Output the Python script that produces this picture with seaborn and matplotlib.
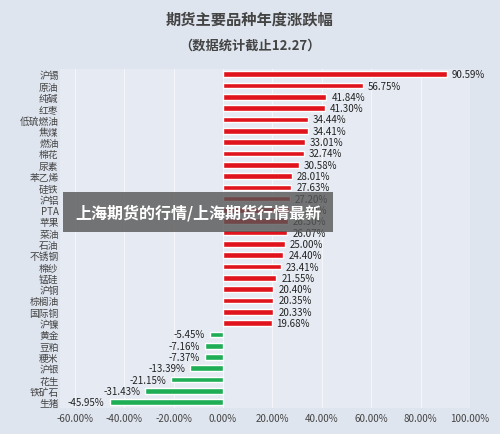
import matplotlib
matplotlib.use("Agg")
import matplotlib.pyplot as plt
import seaborn as sns
import pandas as pd

names = ["沪锡", "原油", "纯碱", "红枣", "低硫燃油", "焦煤", "燃油", "棉花", "尿素", "苯乙烯",
         "硅铁", "沪铝", "PTA", "苹果", "菜油", "石油", "不锈钢", "棉纱", "锰硅", "沪铜",
         "棕榈油", "国际铜", "沪镍", "黄金", "豆粕", "粳米", "沪银", "花生", "铁矿石", "生猪"]
values = [90.59, 56.75, 41.84, 41.30, 34.44, 34.41, 33.01, 32.74, 30.58, 28.01,
          27.63, 27.20, 26.60, 26.30, 26.07, 25.00, 24.40, 23.41, 21.55, 20.40,
          20.35, 20.33, 19.68, -5.45, -7.16, -7.37, -13.39, -21.15, -31.43, -45.95]
xticks = [-60, -40, -20, 0, 20, 40, 60, 80, 100]

sns.set_style("white")
plt.rcParams["font.family"] = ["Noto Sans CJK SC", "DejaVu Sans"]

df = pd.DataFrame({"name": names, "value": values})
df["sign"] = ["pos" if v > 0 else "neg" for v in values]

fig = plt.figure(figsize=(5.0, 4.35), dpi=100)
fig.patch.set_facecolor("#dfe5ef")
ax = fig.add_axes([0.12, 0.06, 0.82, 0.78])
ax.set_facecolor("#e6ebf3")

sns.barplot(data=df, x="value", y="name", hue="sign", dodge=False,
            palette={"pos": "#e0141c", "neg": "#1fae55"}, width=0.5,
            saturation=1, legend=False, ax=ax)

for i, v in enumerate(values):
    if v > 0:
        ax.text(v + 2, i, f"{v:.2f}%", va="center", ha="left", fontsize=7, color="#222222")
    else:
        ax.text(v - 2, i, f"{v:.2f}%", va="center", ha="right", fontsize=7, color="#222222")

ax.set_xlim(-66, 100)
ax.set_xticks(xticks)
ax.set_xticklabels([f"{t:.2f}%" for t in xticks], fontsize=7, color="#444444")
ax.tick_params(axis="y", labelsize=7, labelcolor="#444444", length=0, pad=1)
ax.tick_params(axis="x", length=0)
ax.grid(axis="x", color="#f4f6fa", lw=0.8)
ax.set_axisbelow(True)
ax.set_xlabel("")
ax.set_ylabel("")
for s in ax.spines.values():
    s.set_visible(False)

fig.text(0.5, 0.955, "期货主要品种年度涨跌幅", ha="center", va="center",
         fontsize=11, fontweight="bold", color="#444444")
fig.text(0.5, 0.895, "（数据统计截止12.27）", ha="center", va="center",
         fontsize=9.5, fontweight="bold", color="#444444")
fig.text(0.15, 0.51, "上海期货的行情/上海期货行情最新", ha="left", va="center",
         fontsize=11.5, fontweight="bold", color="white", zorder=10,
         bbox=dict(boxstyle="square,pad=0.75", facecolor="#555555", alpha=0.8,
                   edgecolor="none"))

fig.savefig("out.png", dpi=100)
